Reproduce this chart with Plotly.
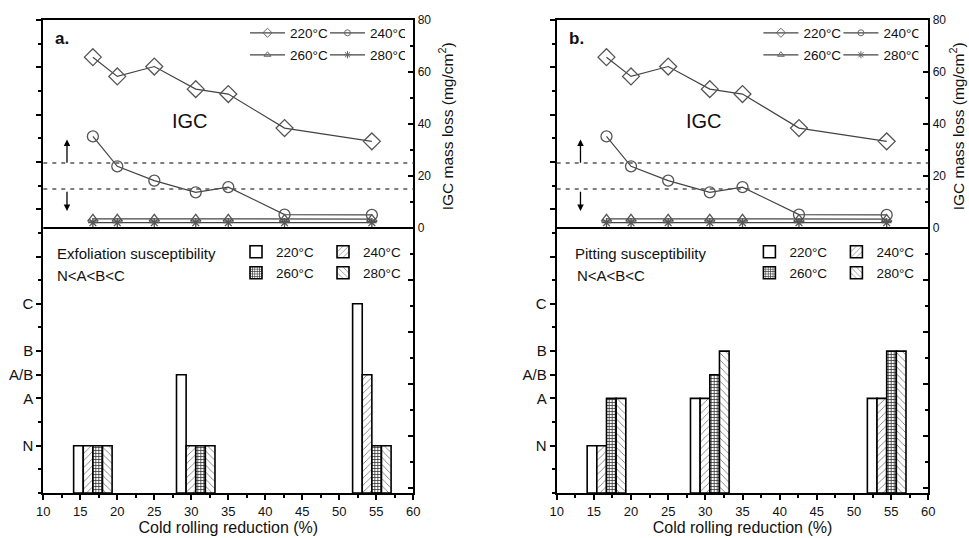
import plotly.graph_objects as go

# ---------------- data ----------------
reduction = [16.7, 20.0, 25.0, 30.6, 35.0, 42.6, 54.4]
igc_220 = [65.7, 58.3, 62.1, 53.4, 51.5, 38.4, 33.3]
igc_240 = [35.2, 23.7, 18.2, 13.7, 15.7, 5.1, 5.0]
igc_260 = [3.5, 3.5, 3.5, 3.5, 3.5, 3.4, 3.4]
igc_280 = [2.0, 2.0, 2.0, 2.0, 2.0, 2.0, 2.0]

bar_reduction = [16.7, 30.6, 54.4]
exfol_220 = [1, 2.5, 4]
exfol_240 = [1, 1, 2.5]
exfol_260 = [1, 1, 1]
exfol_280 = [1, 1, 1]

pit_220 = [1, 2, 2]
pit_240 = [1, 2, 2]
pit_260 = [2, 2.5, 3]
pit_280 = [2, 3, 3]

temps = ["220°C", "240°C", "260°C", "280°C"]
rating_vals = [1, 2, 2.5, 3, 4]
rating_labels = ["N", "A", "A/B", "B", "C"]
igc_ticks = [0, 20, 40, 60, 80]
thresholds = [25, 15]
panel_labels = ["a.", "b."]
susc_titles = ["Exfoliation susceptibility", "Pitting susceptibility"]
order_text = "N<A<B<C"

# ---------------- styles ----------------
W, H = 969, 538
FONT = "Liberation Sans, Arial, sans-serif"
NARROW = "Liberation Sans Narrow, Arial Narrow, Liberation Sans, Arial, sans-serif"
line_syms = ["diamond-open", "circle-open", "triangle-up-open", "asterisk-open"]
line_sizes = [13, 11, 9, 8]
legend_sizes = [7, 6, 6, 6]
bar_w = 1.3
bar_offsets = [-2.6, -1.3, 0.0, 1.3]
patterns = [
    dict(shape=""),
    dict(shape="/", fgcolor="#666", size=5, solidity=0.15),
    dict(shape="+", fgcolor="#333", size=3, solidity=0.45),
    dict(shape="\\", fgcolor="#666", size=5, solidity=0.15),
]

px_left = [43.3, 556.7]
px_right = [413.3, 928.3]
title_dx = [33, 29]
y_dom = [(H - 493) / H, (H - 20) / H]

fig = go.Figure()

bar_sets = [[exfol_220, exfol_240, exfol_260, exfol_280],
            [pit_220, pit_240, pit_260, pit_280]]
igc_sets = [igc_220, igc_240, igc_260, igc_280]

shapes = []
annotations = []
layout_axes = {}


def lgname(i):
    return "legend" if i == 1 else "legend%d" % i


for p in range(2):
    xa = "x" if p == 0 else "x2"
    yb = "y" if p == 0 else "y3"
    yl = "y2" if p == 0 else "y4"
    lg_base = 1 + p * 4

    # bars
    for i in range(4):
        fig.add_trace(go.Bar(
            x=bar_reduction, y=bar_sets[p][i], width=bar_w, offset=bar_offsets[i],
            xaxis=xa, yaxis=yb, name=temps[i],
            legend=lgname(lg_base + 2 + i // 2),
            marker=dict(color="white", line=dict(color="black", width=1.6),
                        pattern=dict(bgcolor="white", **patterns[i]) if i > 0 else None),
        ))
    # lines
    for i in range(4):
        fig.add_trace(go.Scatter(
            x=reduction, y=igc_sets[i], xaxis=xa, yaxis=yl, name=temps[i],
            mode="lines+markers", showlegend=False,
            line=dict(color="#444", width=1.2),
            marker=dict(symbol=line_syms[i], size=line_sizes[i], color="#555",
                        line=dict(width=1.3, color="#555")),
        ))
        # legend-only entry with small symbol
        fig.add_trace(go.Scatter(
            x=[None], y=[None], xaxis=xa, yaxis=yl, name=temps[i],
            mode="lines+markers", legend=lgname(lg_base + i // 2),
            line=dict(color="#444", width=1.2),
            marker=dict(symbol=line_syms[i], size=legend_sizes[i], color="#666",
                        line=dict(width=1, color="#666")),
        ))

    dom = [px_left[p] / W, px_right[p] / W]
    axis_common = dict(showgrid=False, zeroline=False, showline=True, automargin=False,
                       linecolor="black", linewidth=2, tickcolor="black", tickwidth=1.5)
    xkey = "xaxis" if p == 0 else "xaxis2"
    ybkey = "yaxis" if p == 0 else "yaxis3"
    ylkey = "yaxis2" if p == 0 else "yaxis4"
    layout_axes[xkey] = dict(
        domain=dom, anchor=yb, range=[10, 60], tickmode="linear", tick0=10, dtick=5,
        ticks="outside", ticklen=5, mirror=True,
        minor=dict(tickmode="linear", tick0=10, dtick=2.5, ticks="outside", ticklen=3,
                   tickcolor="black", tickwidth=1.5),
        tickfont=dict(size=13, family=FONT, color="#111"),
        title=dict(text="Cold rolling reduction (%)", font=dict(size=16, family=FONT, color="#111"),
                   standoff=4),
        **axis_common)
    major_b = rating_vals + [5, 6, 7, 8, 9, 10]
    layout_axes[ybkey] = dict(
        domain=y_dom, anchor=xa, range=[0, 10], tickmode="array",
        tickvals=major_b, ticktext=rating_labels + [" "] * 6,
        ticks="outside", ticklen=5,
        minor=dict(tickmode="linear", tick0=0, dtick=0.5, ticks="outside", ticklen=3,
                   tickcolor="black", tickwidth=1.5),
        tickfont=dict(size=15, family=FONT, color="#111"),
        **axis_common)
    major_l = [-100, -80, -60, -40, -20] + igc_ticks
    layout_axes[ylkey] = dict(
        overlaying=yb, anchor=xa, side="right", range=[-102, 80], tickmode="array",
        tickvals=major_l, ticktext=[" "] * 5 + [str(v) for v in igc_ticks],
        ticks="inside", ticklen=5,
        minor=dict(tickmode="linear", tick0=0, dtick=10, ticks="inside", ticklen=3,
                   tickcolor="black", tickwidth=1.5),
        tickfont=dict(size=12, family=FONT, color="#111"),
        **axis_common)

    # divider and thresholds
    shapes.append(dict(type="line", xref=xa + " domain", x0=0, x1=1, yref=yl, y0=0, y1=0,
                       line=dict(color="black", width=2)))
    for t in thresholds:
        shapes.append(dict(type="line", xref=xa + " domain", x0=0, x1=1, yref=yl, y0=t, y1=t,
                           line=dict(color="#555", width=1.5, dash="4px,5px")))
    # arrows
    annotations.append(dict(x=13.2, y=34, ax=13.2, ay=24.5, xref=xa, yref=yl, axref=xa, ayref=yl,
                            text="", showarrow=True, arrowhead=2, arrowsize=1, arrowwidth=1.3,
                            arrowcolor="black"))
    annotations.append(dict(x=13.2, y=6.5, ax=13.2, ay=14.5, xref=xa, yref=yl, axref=xa, ayref=yl,
                            text="", showarrow=True, arrowhead=2, arrowsize=1, arrowwidth=1.3,
                            arrowcolor="black"))
    annotations.append(dict(x=29.8, y=41, xref=xa, yref=yl, text="IGC", showarrow=False,
                            font=dict(size=20, family=FONT, color="#111")))
    annotations.append(dict(x=(px_left[p] + 10) / W, y=1 - 38 / H, xref="paper", yref="paper",
                            xanchor="left", yanchor="middle", text="<b>%s</b>" % panel_labels[p],
                            showarrow=False, font=dict(size=17, family=FONT, color="#111")))
    annotations.append(dict(x=(px_left[p] + 12 + (4 if p else 0)) / W, y=1 - 253 / H,
                            xref="paper", yref="paper",
                            xanchor="left", yanchor="middle", text=susc_titles[p],
                            showarrow=False, font=dict(size=15, family=NARROW, color="#111")))
    annotations.append(dict(x=(px_left[p] + 12 + (6 if p else 0)) / W, y=1 - 275 / H,
                            xref="paper", yref="paper",
                            xanchor="left", yanchor="middle", text=order_text,
                            showarrow=False, font=dict(size=15, family=NARROW, color="#111")))
    annotations.append(dict(x=(px_right[p] + title_dx[p]) / W, y=1 - 126 / H,
                            xref="paper", yref="paper",
                            xanchor="center", yanchor="middle", textangle=-90,
                            text="IGC mass loss (mg/cm<sup>2</sup>)", showarrow=False,
                            font=dict(size=15.5, family=FONT, color="#111")))

legends = {}
for p in range(2):
    shift = px_left[p] - px_left[0]
    base = 1 + p * 4
    rows = [
        (245 + shift, 33, 30, 35),
        (245 + shift, 55, 30, 35),
        (236 + shift, 252, 42, 30),
        (236 + shift, 273, 42, 30),
    ]
    for k, (lx, ly, ew, iw) in enumerate(rows):
        idx = base + k
        legends[lgname(idx)] = dict(orientation="h", x=lx / W, xanchor="left", y=1 - ly / H,
                                    yanchor="middle", entrywidth=ew, itemwidth=iw,
                                    bgcolor="rgba(0,0,0,0)",
                                    font=dict(size=13.5, family=NARROW, color="#111"),
                                    traceorder="normal")

fig.update_layout(
    template="none",
    width=W, height=H, margin=dict(l=0, r=0, t=0, b=0, autoexpand=False),
    paper_bgcolor="white", plot_bgcolor="white",
    barmode="overlay", showlegend=True,
    shapes=shapes, annotations=annotations,
    **layout_axes, **legends,
)

fig.write_html("out.html", config={"displayModeBar": False},
               post_script="document.body.style.margin='0px';document.body.style.overflow='hidden';")
